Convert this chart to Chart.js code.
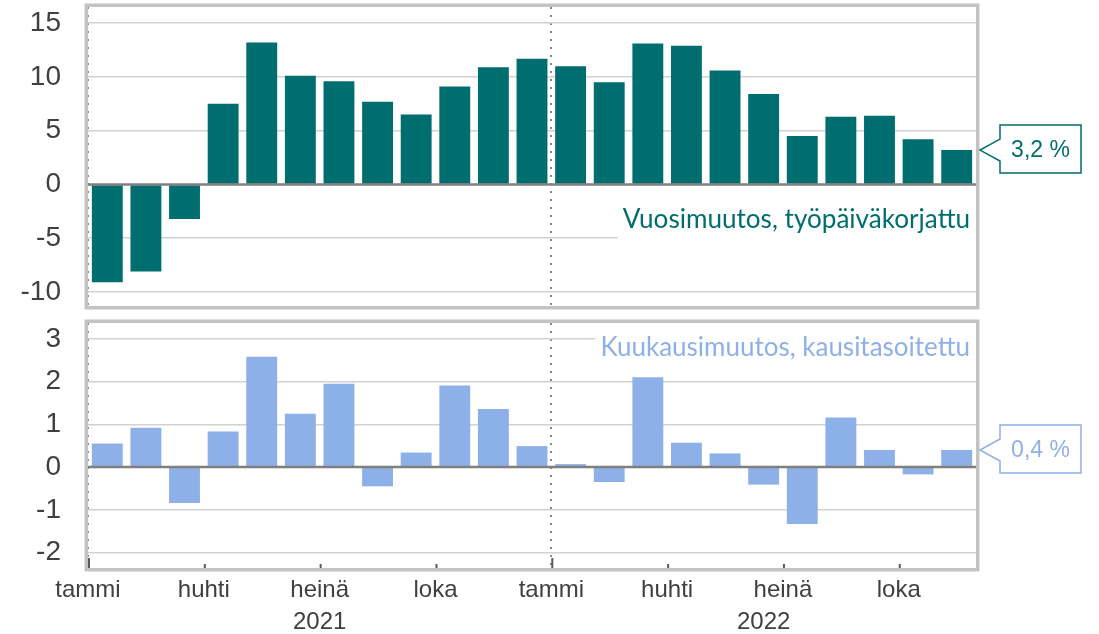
<!DOCTYPE html>
<html lang="fi">
<head>
<meta charset="utf-8">
<script src="https://cdn.jsdelivr.net/npm/chart.js@4.4.0/dist/chart.umd.min.js"></script>
<style>
  body { margin: 0; background: #fff; }
  canvas { position: absolute; left: 0; }
  #ylempi { top: 0; }
  #alempi { top: 316px; }
</style>
</head>
<body>
<canvas id="ylempi" width="1099" height="316"></canvas>
<canvas id="alempi" width="1099" height="318"></canvas>
<script>
// kuukaudet tammikuu 2021 - marraskuu 2022
const kuukaudet = ["2021-01", "2021-02", "2021-03", "2021-04", "2021-05", "2021-06",
  "2021-07", "2021-08", "2021-09", "2021-10", "2021-11", "2021-12",
  "2022-01", "2022-02", "2022-03", "2022-04", "2022-05", "2022-06",
  "2022-07", "2022-08", "2022-09", "2022-10", "2022-11"];
const vuosimuutos = [-9.1, -8.1, -3.2, 7.5, 13.2, 10.1, 9.6, 7.7, 6.5, 9.1, 10.9, 11.7,
  11.0, 9.5, 13.1, 12.9, 10.6, 8.4, 4.5, 6.3, 6.4, 4.2, 3.2];
const kuukausimuutos = [0.55, 0.92, -0.84, 0.83, 2.58, 1.25, 1.95, -0.45, 0.34, 1.91, 1.36, 0.49,
  0.07, -0.35, 2.1, 0.57, 0.32, -0.41, -1.33, 1.16, 0.4, -0.17, 0.4];
const tickLabels = ["tammi", "huhti", "heinä", "loka"];
const vuodet = ["2021", "2022"];

const teal = "#006e6e";
const sininen = "#8eb0e8";
const tekstiVari = "#404040";
const arial = "'Liberation Sans', Arial, sans-serif";

function sovitaFontti(ctx, teksti, leveys, perhe) {
  ctx.font = "100px " + perhe;
  const koko = 100 * leveys / ctx.measureText(teksti).width;
  return koko.toFixed(1) + "px " + perhe;
}

// kehys, nollaviiva, otsikko, tikit ja viimeisen arvon laatikko
const kehys = {
  id: "kehys",
  afterDatasetsDraw(chart, args, opts) {
    const ctx = chart.ctx;
    const a = chart.chartArea;
    const y = chart.scales.y;
    const xl = chart.scales.xl;
    ctx.save();

    // nollaviiva
    const y0 = y.getPixelForValue(0);
    ctx.strokeStyle = "#7f7f7f";
    ctx.lineWidth = 2.5;
    ctx.beginPath();
    ctx.moveTo(a.left, y0);
    ctx.lineTo(a.right, y0);
    ctx.stroke();

    // sarjan nimi valkoisella pohjalla
    ctx.font = sovitaFontti(ctx, opts.otsikko, opts.otsikkoLeveys, "Lato, 'Open Sans', sans-serif");
    const tLeveys = ctx.measureText(opts.otsikko).width;
    const tx = a.right - 6;
    const ty = a.top + opts.otsikkoY;
    ctx.fillStyle = "#fff";
    ctx.fillRect(tx - tLeveys - 5, ty - 17, a.right - (tx - tLeveys - 5), 36);
    ctx.fillStyle = opts.vari;
    ctx.textAlign = "right";
    ctx.textBaseline = "middle";
    ctx.fillText(opts.otsikko, tx, ty);

    // tikit alareunassa
    if (opts.tikit) {
      ctx.strokeStyle = "#595959";
      ctx.lineWidth = 2;
      xl.ticks.forEach(t => {
        const px = xl.getPixelForValue(t.value);
        const pituus = t.value % 12 === 0 ? 10 : 4;
        ctx.beginPath();
        ctx.moveTo(px + 1, a.bottom);
        ctx.lineTo(px + 1, a.bottom - pituus);
        ctx.stroke();
      });
      // vuodet
      ctx.fillStyle = tekstiVari;
      ctx.font = "24px " + arial;
      ctx.textAlign = "center";
      vuodet.forEach(v => {
        const idx = kuukaudet.map((k, i) => k.startsWith(v) ? i : -1).filter(i => i >= 0);
        const keski = idx[0] + idx.length / 2;
        ctx.fillText(v, xl.getPixelForValue(keski), opts.vuosiY);
      });
    }

    // kehys
    ctx.strokeStyle = "#c3c3c3";
    ctx.lineWidth = 3.5;
    ctx.strokeRect(a.left - 1.75, a.top - 1.75, a.right - a.left + 3.5, a.bottom - a.top + 3.5);

    // viimeisen arvon laatikko
    const data = chart.data.datasets[0].data;
    const arvo = data[data.length - 1];
    const py = y.getPixelForValue(arvo);
    const kx = a.right + 4, bx = a.right + 24, rx = a.right + 105;
    ctx.beginPath();
    ctx.moveTo(bx, py - 25);
    ctx.lineTo(rx, py - 25);
    ctx.lineTo(rx, py + 23);
    ctx.lineTo(bx, py + 23);
    ctx.lineTo(bx, py + 11);
    ctx.lineTo(kx, py);
    ctx.lineTo(bx, py - 11);
    ctx.closePath();
    ctx.fillStyle = "#fff";
    ctx.fill();
    ctx.strokeStyle = opts.vari;
    ctx.lineWidth = 1.5;
    ctx.stroke();
    ctx.fillStyle = opts.vari;
    ctx.font = "23px " + arial;
    ctx.textAlign = "center";
    ctx.textBaseline = "middle";
    ctx.fillText(arvo.toFixed(1).replace(".", ",") + " %", (bx + rx) / 2, py + 1);

    ctx.restore();
  }
};

function teeKaavio(canvas, arvot, vari, yMin, yMax, askel, asetukset, alaosa) {
  return new Chart(canvas, {
    type: "bar",
    data: {
      labels: kuukaudet,
      datasets: [{
        data: arvot,
        backgroundColor: vari,
        categoryPercentage: 1.0,
        barPercentage: 0.8
      }]
    },
    options: {
      responsive: false,
      animation: false,
      layout: { padding: { left: 0, right: 123, top: 7, bottom: 0 } },
      plugins: {
        legend: { display: false },
        tooltip: { enabled: false },
        kehys: asetukset
      },
      scales: {
        x: { display: false },
        xl: {
          type: "linear",
          position: "bottom",
          min: 0,
          max: kuukaudet.length,
          offset: false,
          border: { display: false, dash: [2, 6] },
          grid: {
            offset: false,
            drawTicks: false,
            color: c => c.tick && c.tick.value % 12 === 0 ? "#8a8a8a" : "transparent",
            lineWidth: 2
          },
          ticks: {
            display: alaosa,
            stepSize: 3,
            includeBounds: false,
            padding: 8,
            color: tekstiVari,
            font: { family: arial, size: 24 },
            callback: v => tickLabels[(v / 3) % 4]
          },
          afterBuildTicks: s => { s.ticks = s.ticks.filter(t => t.value % 3 === 0); },
          afterFit: s => { s.height = alaosa ? 66 : 10; s.paddingLeft = 0; s.paddingRight = 0; }
        },
        y: {
          min: yMin,
          max: yMax,
          border: { display: false },
          grid: {
            drawTicks: false,
            color: c => c.tick && c.tick.value === 0 ? "transparent" : "#d2d2d2",
            lineWidth: 1.5
          },
          ticks: {
            stepSize: askel,
            includeBounds: false,
            padding: 27,
            color: tekstiVari,
            font: { family: arial, size: 28 }
          },
          afterBuildTicks: s => {
            s.ticks = s.ticks.filter(t => Math.abs(t.value / askel - Math.round(t.value / askel)) < 1e-9);
          },
          afterFit: s => { s.width = 88; s.paddingTop = 0; s.paddingBottom = 0; }
        }
      }
    },
    plugins: [kehys]
  });
}

teeKaavio(document.getElementById("ylempi"), vuosimuutos, teal, -11.3, 16.5, 5, {
  otsikko: "Vuosimuutos, työpäiväkorjattu",
  otsikkoLeveys: 347,
  otsikkoY: 213,
  vari: teal,
  tikit: false
}, false);

teeKaavio(document.getElementById("alempi"), kuukausimuutos, sininen, -2.36, 3.37, 1, {
  otsikko: "Kuukausimuutos, kausitasoitettu",
  otsikkoLeveys: 369,
  otsikkoY: 25,
  vari: sininen,
  tikit: true,
  vuosiY: 306
}, true);
</script>
</body>
</html>
